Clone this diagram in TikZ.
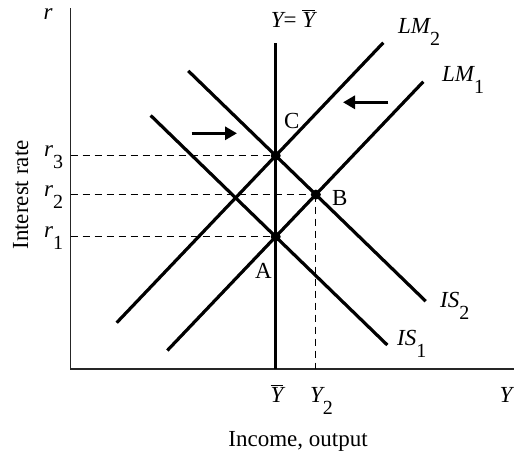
\documentclass[tikz,border=0pt]{standalone}
\usepackage{fontspec}
\setmainfont{Liberation Serif}
\usetikzlibrary{arrows.meta,positioning}
\newcommand{\lowsub}[1]{\raisebox{-0.55em}{\upshape\fontsize{20}{21}\selectfont #1}}
\newcommand{\barY}{$\overline{\mbox{\itshape Y}}$}

\begin{document}
\begin{tikzpicture}[x=1pt,y=-1pt,font=\fontsize{23}{25}\selectfont,
    curve/.style={line width=3.2pt},
    guide/.style={line width=0.9pt,dash pattern=on 7pt off 5pt},
    push/.style={line width=3pt,-{Triangle[length=12pt,width=13pt]}},
    dot/.style={circle,fill,inner sep=0pt,minimum size=10pt},
    lbl/.style={inner sep=0pt}]
  \useasboundingbox (0,0) rectangle (514,453);
  % axes
  \coordinate (O) at (70.7,369);
  \coordinate (ytop) at (70.7,8);
  \coordinate (xend) at (514,369);
  \draw[line width=1.1pt,black!85] (ytop) -- (O) -- (xend);

  % equilibrium points and curve ends
  \coordinate (C) at (275.7,155.7);
  \coordinate (A) at (275.7,236.7);
  \coordinate (lm2a) at (116.7,322.7);
  \coordinate (lm2b) at (383.3,42.7);
  \coordinate (lm1a) at (167.3,350.5);
  \coordinate (lm1b) at (423.3,81.7);
  \coordinate (is2a) at (188.3,70.9);
  \coordinate (is2b) at (425.7,301.2);
  \coordinate (is1a) at (150.7,115.5);
  \coordinate (is1b) at (387.3,345);
  \coordinate (B) at (intersection of lm1a--lm1b and is2a--is2b);
  \coordinate (ybtop) at (275.7,43.3);
  \coordinate (ybbot) at (O -| C);

  \draw[guide] (C -| O) -- (C);
  \draw[guide] (B -| O) -- (B);
  \draw[guide] (A -| O) -- (A);
  \draw[guide] (B) -- (B |- O);

  \draw[curve] (ybtop) -- (ybbot);
  \draw[curve] (lm2a) -- (lm2b);
  \draw[curve] (lm1a) -- (lm1b);
  \draw[curve] (is2a) -- (is2b);
  \draw[curve] (is1a) -- (is1b);

  \node[dot] (dotA) at (A) {};
  \node[dot] (dotB) at (B) {};
  \node[dot] (dotC) at (C) {};

  % shifts
  \coordinate (isarr0) at (191.7,133.3);
  \coordinate (isarr1) at (237,133.3);
  \coordinate (lmarr0) at (388.3,102.3);
  \coordinate (lmarr1) at (343,102.3);
  \draw[push] (isarr0) -- (isarr1);
  \draw[push] (lmarr0) -- (lmarr1);

  % labels
  \node[lbl,anchor=base] (rlbl) at (48,19) {\itshape r};
  \node[lbl,anchor=base] (ylbl) at (506,402) {\itshape Y};
  \node[lbl,anchor=base] (fullemp) at (293,27) {\itshape Y\upshape= \barY};
  \node[lbl,anchor=base west] (lm2lbl) at (398,33) {\itshape LM\lowsub{2}};
  \node[lbl,anchor=base west] (lm1lbl) at (442,81) {\itshape LM\lowsub{1}};
  \node[lbl,anchor=base west] (is2lbl) at (440,307) {\itshape IS\lowsub{2}};
  \node[lbl,anchor=base west] (is1lbl) at (397,345) {\itshape IS\lowsub{1}};
  \node[lbl,anchor=base west] (Clbl) at (284,128) {C};
  \node[lbl,anchor=base west] (Blbl) at (332,205) {B};
  \node[lbl,anchor=base west] (Albl) at (255,278) {A};
  \node[lbl,anchor=base west] (r3) at (44,156) {\itshape r\lowsub{3}};
  \node[lbl,anchor=base west] (r2) at (44,196) {\itshape r\lowsub{2}};
  \node[lbl,anchor=base west] (r1) at (44,237) {\itshape r\lowsub{1}};
  \node[lbl,anchor=base] (ybarlbl) at (277,402) {\barY};
  \node[lbl,anchor=base west] (y2lbl) at (310,402) {\itshape Y\lowsub{2}};
  \node[lbl,anchor=base,rotate=90] (rate) at (28,195) {Interest rate};
  \node[lbl,anchor=base] (income) at (298,446) {Income, output};
\end{tikzpicture}
\end{document}
